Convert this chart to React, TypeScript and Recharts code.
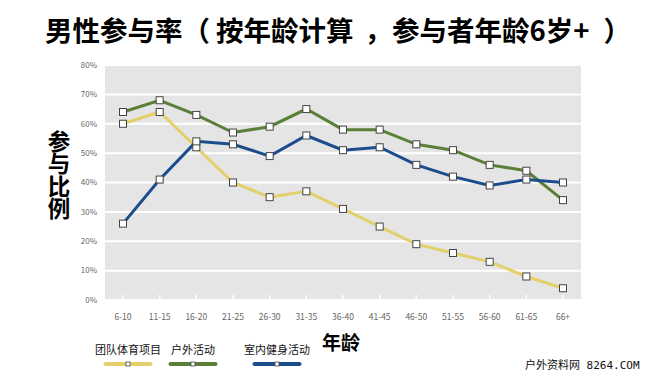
import React from 'react';
import { LineChart, Line, XAxis, YAxis, CartesianGrid, Legend } from 'recharts';

const categories = ['6-10', '11-15', '16-20', '21-25', '26-30', '31-35', '36-40', '41-45', '46-50', '51-55', '56-60', '61-65', '66+'];
const teamSports = [60, 64, 52, 40, 35, 37, 31, 25, 19, 16, 13, 8, 4];
const outdoor = [64, 68, 63, 57, 59, 65, 58, 58, 53, 51, 46, 44, 34];
const indoorFitness = [26, 41, 54, 53, 49, 56, 51, 52, 46, 42, 39, 41, 40];
const yTicks = [0, 10, 20, 30, 40, 50, 60, 70, 80];
const seriesNames = ['团队体育项目', '户外活动', '室内健身活动'];
const titleParts = ['男性参与率', '（', '按年龄计算', '，', '参与者年龄6岁+', '）'];
const yLabel = '参与比例';
const xLabel = '年龄';
const watermarkCn = '户外资料网';
const watermarkEn = ' 8264.COM';

const colors = ['#E3D06A', '#5B7F38', '#1B4D8C'];
const legendCenters = [128, 193, 277];
const titleMargins = [
  [0, 0],
  [0, 6],
  [0, 0],
  [11, 0],
  [0, 0],
  [14, 0],
];

const data = categories.map((c, i) => ({
  cat: c,
  team: teamSports[i],
  outdoor: outdoor[i],
  indoor: indoorFitness[i],
}));

const CJK = '"Noto Sans CJK SC", "Noto Sans", sans-serif';

const SquareDot = (props: any) => {
  const { cx, cy, index, dataKey } = props;
  if (cx == null || cy == null) return null;
  return (
    <rect
      key={`${dataKey}-${index}`}
      x={cx - 3.5}
      y={cy - 3.5}
      width={7}
      height={7}
      fill="#ffffff"
      stroke="#444444"
      strokeWidth={1}
    />
  );
};

const XTick = (props: any) => {
  const { x, y, payload } = props;
  return (
    <g>
      <line x1={x} x2={x} y1={y - 5} y2={y - 1} stroke="#ffffff" strokeWidth={1.5} />
      <text x={x} y={y + 20} textAnchor="middle" fontSize={8.5} fill="#666666" fontFamily={CJK}>
        {payload.value}
      </text>
    </g>
  );
};

const LegendContent = (props: any) => {
  const { payload } = props;
  const items = seriesNames.map((name) => (payload || []).find((p: any) => p.value === name)).filter(Boolean);
  return (
    <div style={{ position: 'relative', width: 650, height: 40 }}>
      {items.map((entry: any) => {
        const i = seriesNames.indexOf(entry.value);
        return (
          <div
            key={entry.value}
            style={{
              position: 'absolute',
              left: legendCenters[i] - 45,
              top: 0,
              width: 90,
              textAlign: 'center',
            }}
          >
            <div style={{ fontSize: 11, lineHeight: '14px', fontFamily: CJK, color: '#111' }}>{entry.value}</div>
            <svg width={90} height={10} style={{ position: 'absolute', left: 0, top: 17 }}>
              <line x1={22.5} x2={67.5} y1={5} y2={5} stroke={entry.color} strokeWidth={4} strokeLinecap="round" />
              <rect x={43} y={3} width={4} height={4} fill="#fff" stroke="#444" strokeWidth={0.8} />
            </svg>
          </div>
        );
      })}
    </div>
  );
};

export default function App() {
  return (
    <div style={{ position: 'absolute', left: 0, top: 0, width: 650, height: 378, background: '#fff', overflow: 'hidden' }}>
      <div
        style={{
          position: 'absolute',
          left: 45,
          top: 15,
          fontSize: 27.5,
          lineHeight: '28px',
          fontWeight: 700,
          fontFamily: CJK,
          whiteSpace: 'nowrap',
          color: '#000',
        }}
      >
        {titleParts.map((t, i) => (
          <span key={i} style={{ marginLeft: titleMargins[i][0], marginRight: titleMargins[i][1] }}>
            {t}
          </span>
        ))}
      </div>
      <div
        style={{
          position: 'absolute',
          left: 47,
          top: 130,
          fontSize: 22.5,
          lineHeight: '24px',
          fontWeight: 700,
          fontFamily: CJK,
          color: '#000',
          writingMode: 'vertical-rl',
          textOrientation: 'upright',
          whiteSpace: 'nowrap',
        }}
      >
        {yLabel}
      </div>
      <div
        style={{
          position: 'absolute',
          left: 322,
          top: 332,
          fontSize: 19,
          lineHeight: '20px',
          fontWeight: 700,
          fontFamily: CJK,
          color: '#000',
          whiteSpace: 'nowrap',
        }}
      >
        {xLabel}
      </div>
      <div
        style={{
          position: 'absolute',
          left: 525,
          top: 358,
          fontSize: 11,
          lineHeight: '13px',
          color: '#111',
          whiteSpace: 'nowrap',
        }}
      >
        <span style={{ fontFamily: CJK }}>{watermarkCn}</span>
        <span style={{ fontFamily: '"DejaVu Sans Mono", monospace' }}>{watermarkEn}</span>
      </div>
      <div style={{ position: 'absolute', left: 0, top: 0 }}>
        <LineChart width={650} height={378} data={data} margin={{ top: 65, right: 69, bottom: 48, left: 65 }}>
          <CartesianGrid vertical={false} fill="#E5E5E6" stroke="#ffffff" strokeWidth={2} />
          <XAxis
            dataKey="cat"
            interval={0}
            axisLine={false}
            tickLine={false}
            tickSize={0}
            tickMargin={0}
            height={30}
            padding={{ left: 18, right: 18 }}
            tick={<XTick />}
          />
          <YAxis
            domain={[0, 80]}
            ticks={yTicks}
            tickFormatter={(v: number) => `${v}%`}
            axisLine={false}
            tickLine={false}
            tickSize={0}
            tickMargin={8}
            width={40}
            tick={{ fontSize: 8, fill: '#666666', fontFamily: CJK }}
          />
          <Legend
            layout="horizontal"
            verticalAlign="middle"
            align="center"
            wrapperStyle={{ left: 0, top: 342, width: 650, height: 36 }}
            content={<LegendContent />}
          />
          <Line type="linear" dataKey="team" name={seriesNames[0]} stroke={colors[0]} strokeWidth={3} dot={<SquareDot />} activeDot={false} isAnimationActive={false} />
          <Line type="linear" dataKey="outdoor" name={seriesNames[1]} stroke={colors[1]} strokeWidth={3} dot={<SquareDot />} activeDot={false} isAnimationActive={false} />
          <Line type="linear" dataKey="indoor" name={seriesNames[2]} stroke={colors[2]} strokeWidth={3} dot={<SquareDot />} activeDot={false} isAnimationActive={false} />
        </LineChart>
      </div>
    </div>
  );
}
